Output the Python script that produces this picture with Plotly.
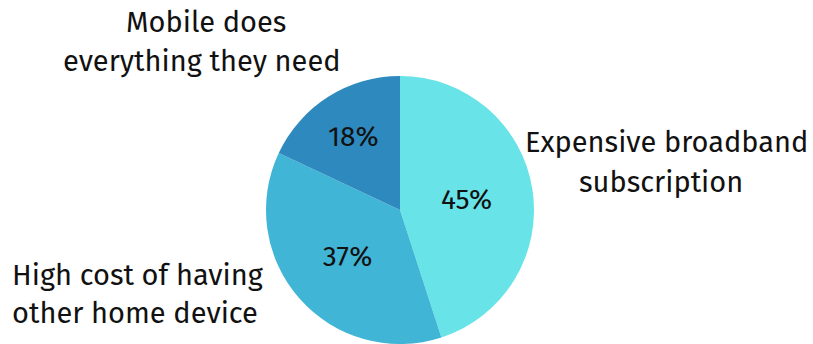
import plotly.graph_objects as go

# Reasons for not having home broadband
categories = ["Expensive broadband subscription",
              "High cost of having other home device",
              "Mobile does everything they need"]
shares = [45, 37, 18]
colors = ["#68E3E8", "#41B5D5", "#2E8ABE"]

# Outside category labels, one line each: (text, centre x px, centre y px)
label_lines = [
    ("Expensive broadband", 666, 142),
    ("subscription", 661, 182),
    ("High cost of having", 138, 275),
    ("other home device", 135, 313),
    ("Mobile does", 206, 22),
    ("everything they need", 202, 62),
]

W, H = 813, 344
cx, cy, r = 400, 210, 134
FONT = "Fira Sans, Noto Sans, sans-serif"

fig = go.Figure(go.Pie(
    labels=categories,
    values=shares,
    sort=False,
    direction="clockwise",
    rotation=0,
    marker=dict(colors=colors, line=dict(width=0)),
    textinfo="percent",
    textposition="inside",
    insidetextorientation="horizontal",
    textfont=dict(family=FONT, size=28, color="#111111"),
    domain=dict(x=[(cx - r) / W, (cx + r) / W],
                y=[1 - (cy + r) / H, 1 - (cy - r) / H]),
    showlegend=False,
    hoverinfo="label+percent",
))

for text, x, y in label_lines:
    fig.add_annotation(
        text=text, x=x / W, y=1 - y / H, xref="paper", yref="paper",
        xanchor="center", yanchor="middle", showarrow=False,
        font=dict(family=FONT, size=29, color="#111111"),
    )

fig.update_layout(
    width=W, height=H,
    margin=dict(l=0, r=0, t=0, b=0),
    paper_bgcolor="white",
    plot_bgcolor="white",
)

fig.write_html("out.html")
